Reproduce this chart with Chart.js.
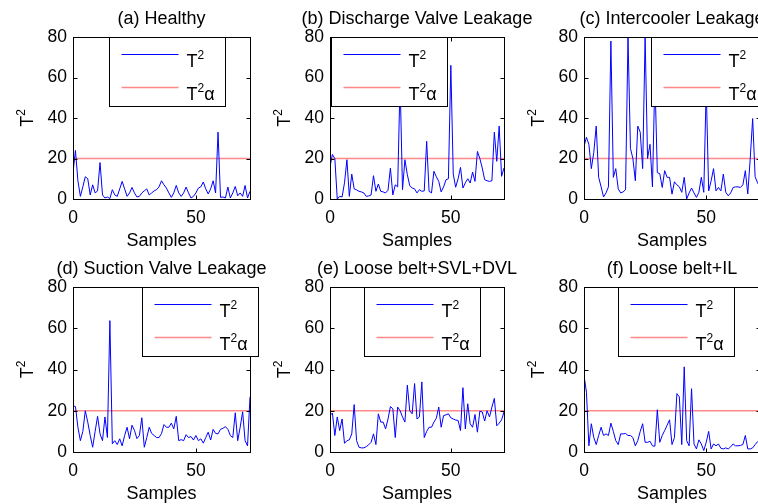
<!DOCTYPE html>
<html>
<head>
<meta charset="utf-8">
<script src="https://cdn.jsdelivr.net/npm/chart.js@4.4.0/dist/chart.umd.min.js"></script>
<style>
  html, body { margin: 0; padding: 0; background: #fff; overflow: hidden; width: 758px; height: 504px; }
  canvas { position: absolute; }
</style>
</head>
<body>
<canvas id="c0"></canvas>
<canvas id="c1"></canvas>
<canvas id="c2"></canvas>
<canvas id="c3"></canvas>
<canvas id="c4"></canvas>
<canvas id="c5"></canvas>
<script>
// T^2 statistic per sample (samples 0..72)
const healthy = [13, 24, 9, 1.3, 6, 11, 10, 2, 7, 3,
  4, 18, 2, 0.5, 1, 0.2, 4.6, 2, 1.3, 5,
  8.7, 5, 1.3, 3, 5.7, 3, 1, 1.3, 3, 4,
  5, 2, 3, 4, 4.6, 6, 9, 7, 5.4, 3,
  0.8, 3, 6.7, 3, 1.3, 3, 5.9, 3, 0.5, 1.3,
  3, 5.4, 6, 8.4, 5, 2.5, 5, 9, 3, 33,
  0.8, 1, 0.5, 5.9, 0.5, 3, 6.2, 1.6, 3, 1.3,
  6.7, 0.5, 3.8];
const dischargeValve = [16, 22, 20, 0, 1.3, 1, 8, 19.4, 1.3, 12.3,
  5, 4.5, 3.8, 3.5, 3, 1.3, 1.5, 2, 11.5, 3.8,
  7.4, 3.8, 3.5, 3, 4.3, 15.3, 2, 7, 6, 58,
  4.6, 19.4, 12, 6.6, 5.4, 5, 3, 4.6, 3.8, 4,
  28.5, 3.8, 3, 13.7, 11, 8.7, 3.5, 6, 9.5, 10,
  66, 12.3, 5.8, 10, 15.6, 5.4, 8, 10, 7.9, 13.3,
  8.7, 23.5, 20, 15.3, 9.5, 9, 8.7, 9, 33, 18.6,
  36, 11.2, 15.3];
const intercooler = [26, 30.5, 27, 15, 23, 36, 10.7, 6, 1, 3,
  6, 78, 10.7, 15, 5, 3, 3.5, 4.6, 80, 25,
  20, 9, 36, 33, 15, 80, 20, 27, 6, 60,
  13, 12.5, 5.7, 14, 10.7, 10.7, 2.4, 8.5, 7, 6,
  3.3, 10.7, 0, 3, 5.4, 3, 0.8, 3.3, 10.7, 3.3,
  55, 4, 9, 15, 4, 5.7, 4, 12.3, 3.3, 1.6,
  3, 5.7, 6, 6, 5.7, 7, 14, 2.5, 20, 39.7,
  11, 8, 6];
const suctionValve = [22.4, 22, 12, 5.5, 10, 20, 14.5, 8, 2.3, 10,
  17.3, 8.8, 5.5, 17, 7, 63.7, 4, 5.5, 3.6, 6.4,
  3, 8, 12, 6.4, 13, 10.5, 6.5, 8, 16.6, 2.3,
  7, 12, 9, 8, 7, 7, 9, 13.3, 12, 12,
  14, 11.2, 17.3, 5.5, 6, 5.5, 8.4, 7, 7.5, 5.8,
  8, 5.5, 6.4, 4.3, 7, 9.6, 5.8, 11, 9, 8.8,
  11, 11.5, 12.3, 11, 8, 7, 19, 5.5, 12, 19.5,
  5.5, 3, 26.7];
const beltSvlDvl = [17.7, 18.9, 8, 17, 10.4, 16, 4.2, 5.5, 5.9, 8.8,
  23, 5.5, 2.3, 2, 2, 2.6, 3.5, 4.7, 8.8, 3.6,
  18.5, 14.5, 14.5, 11.2, 16, 22, 21, 7, 21.8, 20,
  17, 14.5, 32.4, 20, 18.5, 33.2, 16, 17, 34, 7,
  10, 12, 12, 14.5, 16.4, 21.8, 12, 17.7, 18, 18.5,
  16.6, 16, 15.5, 15.3, 10.4, 31.2, 11.2, 23.4, 13.7, 12,
  18.2, 9.6, 19.8, 19.4, 15, 20, 17, 21.8, 26, 12.7,
  14, 15.6, 19.4];
const beltIl = [37.2, 29, 3, 13.7, 7, 3.6, 8, 12, 8, 8.8,
  8, 14, 10, 5.5, 3.6, 8.8, 8.8, 9, 8, 8,
  7, 3, 5.5, 10, 13.7, 4.7, 4.7, 5.2, 3, 2.8,
  20.5, 4.7, 8, 10.4, 13, 15.6, 3.6, 7, 28.3, 26.7,
  3.6, 41.3, 5.5, 3, 30.7, 3.9, 1.5, 5.9, 3.9, 0.7,
  4.7, 10, 1.5, 3.9, 3, 3.9, 1.8, 1.5, 2, 1.5,
  2.5, 3.9, 3, 3, 3.2, 3.6, 8, 1.5, 1.5, 2,
  3.6, 5, 4];

const thresholds = [20, 20, 20, 20, 20, 20];   // T^2 alpha control limit
const titles = ['(a) Healthy', '(b) Discharge Valve Leakage', '(c) Intercooler Leakage',
  '(d) Suction Valve Leakage', '(e) Loose belt+SVL+DVL', '(f) Loose belt+IL'];
const series = [healthy, dischargeValve, intercooler, suctionValve, beltSvlDvl, beltIl];
const xTicks = [0, 50];
const yTicks = [0, 20, 40, 60, 80];
const xMax = 72;
const yMax = 80;

// page layout of each axes box (px) and legend offset from axes left
const panels = [
  { left: 73,  top: 37,  w: 177, h: 162, legendX: 36 },
  { left: 330, top: 37,  w: 174, h: 162, legendX: 1 },
  { left: 584, top: 37,  w: 176, h: 162, legendX: 67 },
  { left: 73,  top: 287, w: 177, h: 165, legendX: 69 },
  { left: 330, top: 287, w: 174, h: 165, legendX: 34 },
  { left: 584, top: 287, w: 176, h: 165, legendX: 34 }
];
const M_L = 73, M_T = 37, M_R = 60, M_B = 56;
const FAM = '"Liberation Sans", Arial, sans-serif';
const FONT = '18px ' + FAM;
const FONT_SUP = '12px ' + FAM;

// draws T with a raised 2 and an optional tail, left aligned, returns width
function drawT2(ctx, x, y, tail) {
  ctx.font = FONT;
  ctx.fillText('T', x, y);
  let w = ctx.measureText('T').width;
  ctx.font = FONT_SUP;
  ctx.fillText('2', x + w, y - 8);
  w += ctx.measureText('2').width;
  if (tail) {
    ctx.font = FONT;
    ctx.fillText(tail, x + w, y);
    w += ctx.measureText(tail).width;
  }
  return w;
}
function widthT2(ctx, tail) {
  ctx.font = FONT;
  let w = ctx.measureText('T').width;
  ctx.font = FONT_SUP;
  w += ctx.measureText('2').width;
  if (tail) { ctx.font = FONT; w += ctx.measureText(tail).width; }
  return w;
}

const matlabAxes = {
  id: 'matlabAxes',
  afterDatasetsDraw(chart, args, opts) {
    const ctx = chart.ctx;
    const a = chart.chartArea;
    const xs = chart.scales.x, ys = chart.scales.y;
    const L = Math.round(a.left) + 0.5, R = Math.round(a.right) + 0.5;
    const T = Math.round(a.top) + 0.5, B = Math.round(a.bottom) + 0.5;
    ctx.save();
    ctx.strokeStyle = '#000';
    ctx.lineWidth = 1;
    ctx.strokeRect(L, T, R - L, B - T);

    // ticks point inwards, on all four sides
    ctx.beginPath();
    yTicks.forEach(v => {
      const py = Math.round(ys.getPixelForValue(v)) + 0.5;
      ctx.moveTo(L, py); ctx.lineTo(L + 4, py);
      ctx.moveTo(R, py); ctx.lineTo(R - 4, py);
    });
    xTicks.forEach(v => {
      const px = Math.round(xs.getPixelForValue(v)) + 0.5;
      ctx.moveTo(px, B); ctx.lineTo(px, B - 4);
      ctx.moveTo(px, T); ctx.lineTo(px, T + 4);
    });
    ctx.stroke();

    // legend box
    const lx = L + opts.legendX, ly = T;
    ctx.fillStyle = '#fff';
    ctx.fillRect(lx, ly, 116, 69);
    ctx.strokeRect(lx, ly, 116, 69);
    const ds = chart.data.datasets;
    [[ds[0], 17, ''], [ds[1], 50, '\u03b1']].forEach(([d, dy, tail]) => {
      ctx.strokeStyle = d.borderColor;
      ctx.lineWidth = d.borderWidth;
      ctx.beginPath();
      ctx.moveTo(lx + 12, ly + dy);
      ctx.lineTo(lx + 69, ly + dy);
      ctx.stroke();
      ctx.fillStyle = '#000';
      ctx.textAlign = 'left';
      ctx.textBaseline = 'alphabetic';
      drawT2(ctx, lx + 77, ly + dy + 12, tail);
    });

    // title and axis labels
    const cx = (a.left + a.right) / 2;
    ctx.fillStyle = '#000';
    ctx.textAlign = 'center';
    ctx.textBaseline = 'alphabetic';
    ctx.font = FONT;
    ctx.fillText(opts.title, cx, a.top - 13);
    ctx.fillText('Samples', cx, a.bottom + 47);

    ctx.translate(a.left - 40, (a.top + a.bottom) / 2);
    ctx.rotate(-Math.PI / 2);
    ctx.textAlign = 'left';
    const w = widthT2(ctx, '');
    drawT2(ctx, -w / 2, 0, '');
    ctx.restore();
  }
};

panels.forEach((p, i) => {
  const cv = document.getElementById('c' + i);
  const W = M_L + p.w + M_R, H = M_T + p.h + M_B;
  cv.width = W; cv.height = H;
  cv.style.left = (p.left - M_L) + 'px';
  cv.style.top = (p.top - M_T) + 'px';

  const values = series[i];
  new Chart(cv, {
    type: 'line',
    data: {
      datasets: [{
        label: 'T2',
        data: values.map((v, k) => ({ x: k, y: v })),
        borderColor: 'rgb(0,0,255)',
        borderWidth: 1,
        pointRadius: 0,
        tension: 0
      }, {
        label: 'T2 alpha',
        data: [{ x: 0, y: thresholds[i] }, { x: xMax, y: thresholds[i] }],
        borderColor: 'rgba(255,40,40,0.55)',
        borderWidth: 1.5,
        pointRadius: 0
      }]
    },
    options: {
      responsive: false,
      animation: false,
      layout: { padding: { left: 0, top: M_T, right: M_R, bottom: 0 } },
      plugins: {
        legend: { display: false },
        tooltip: { enabled: false },
        matlabAxes: { title: titles[i], legendX: p.legendX }
      },
      scales: {
        x: {
          type: 'linear', min: 0, max: xMax,
          grid: { display: false, drawTicks: false },
          border: { display: false },
          afterBuildTicks: s => { s.ticks = xTicks.map(v => ({ value: v })); },
          afterFit: s => { s.height = M_B; },
          ticks: { color: '#000', font: { family: FAM, size: 17.5 }, padding: 9, maxRotation: 0, autoSkip: false }
        },
        y: {
          min: 0, max: yMax,
          grid: { display: false, drawTicks: false },
          border: { display: false },
          afterBuildTicks: s => { s.ticks = yTicks.map(v => ({ value: v })); },
          afterFit: s => { s.width = M_L; },
          ticks: { color: '#000', font: { family: FAM, size: 17.5 }, padding: 6, autoSkip: false }
        }
      }
    },
    plugins: [matlabAxes]
  });
});
</script>
</body>
</html>
